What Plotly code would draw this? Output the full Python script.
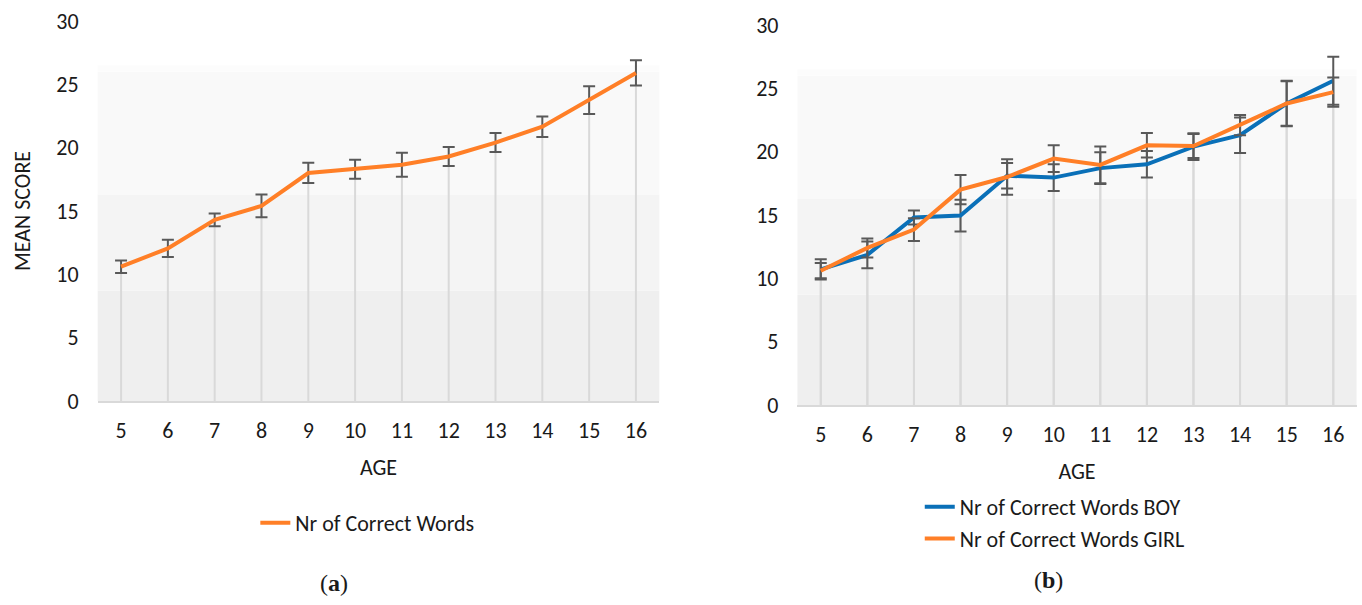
import plotly.graph_objects as go

# ---- data -------------------------------------------------------------
ages = [5, 6, 7, 8, 9, 10, 11, 12, 13, 14, 15, 16]
y_ticks = [0, 5, 10, 15, 20, 25, 30]

# (a) all children
mean_all = [10.6, 12.05, 14.3, 15.4, 18.0, 18.3, 18.65, 19.3, 20.4, 21.65, 23.75, 25.9]
err_all = [0.5, 0.68, 0.5, 0.9, 0.8, 0.75, 0.95, 0.75, 0.75, 0.8, 1.1, 1.0]

# (b) split by gender
mean_boy = [10.7, 11.85, 14.8, 14.95, 18.1, 17.95, 18.7, 19.0, 20.4, 21.3, 23.8, 25.6]
err_boy = [0.8, 1.05, 0.55, 1.25, 1.0, 1.05, 1.25, 1.05, 1.05, 1.4, 1.8, 1.9]
mean_girl = [10.6, 12.4, 13.85, 17.0, 18.0, 19.45, 18.95, 20.5, 20.45, 22.1, 23.8, 24.7]
err_girl = [0.6, 0.75, 0.9, 1.15, 1.4, 1.05, 1.45, 0.97, 0.95, 0.8, 1.75, 1.15]

# ---- styling ----------------------------------------------------------
FONT = "Carlito, Lato, sans-serif"
FS = 22
TXT = "#1a1a1a"
ORANGE = "#FF7F27"
BLUE = "#0A70B8"
ERR = "#595959"
DROP = "#d9d9d9"


def drop_lines(values, xa, ya):
    xs, ys = [], []
    for a, v in zip(ages, values):
        xs += [a, a, None]
        ys += [0, v, None]
    return go.Scatter(x=xs, y=ys, mode="lines", line=dict(color=DROP, width=2),
                      hoverinfo="skip", showlegend=False, xaxis=xa, yaxis=ya)


def series(values, errs, name, color, xa, ya, legend):
    return go.Scatter(
        x=ages, y=values, name=name, mode="lines",
        line=dict(color=color, width=4),
        error_y=dict(type="data", array=errs, visible=True,
                     color=ERR, thickness=2, width=6),
        xaxis=xa, yaxis=ya, legend=legend,
    )


fig = go.Figure()
fig.add_trace(drop_lines(mean_all, "x", "y"))
fig.add_trace(drop_lines(mean_boy, "x2", "y2"))
fig.add_trace(drop_lines(mean_girl, "x2", "y2"))
fig.add_trace(series(mean_all, err_all, "Nr of Correct Words", ORANGE, "x", "y", "legend"))
fig.add_trace(series(mean_boy, err_boy, "Nr of Correct Words BOY", BLUE, "x2", "y2", "legend2"))
fig.add_trace(series(mean_girl, err_girl, "Nr of Correct Words GIRL", ORANGE, "x2", "y2", "legend2"))

# soft grey banding of the plot areas
bands = [(0, 8.7, "#efefef"), (8.7, 16.3, "#f4f4f4"), (16.3, 26.0, "#f9f9f9"), (26.0, 26.5, "#fcfcfc")]
shapes = []
for xr, yr in (("x domain", "y"), ("x2 domain", "y2")):
    for y0, y1, c in bands:
        shapes.append(dict(type="rect", xref=xr, yref=yr, x0=0, x1=1, y0=y0, y1=y1,
                           fillcolor=c, line=dict(width=0), layer="below"))

tfont = dict(size=FS, color=TXT, family=FONT)
xcommon = dict(range=[4.5, 16.5], tickvals=ages, ticktext=[str(a) for a in ages],
               showgrid=False, zeroline=False, showline=True, linecolor=DROP, linewidth=2,
               ticks="", ticklabelstandoff=9, tickfont=tfont, automargin=False,
               title=dict(text="AGE", font=tfont, standoff=16))
ycommon = dict(range=[0, 30], tickvals=y_ticks, showgrid=False, zeroline=False, showline=False,
               ticks="", ticklabelstandoff=18, tickfont=tfont, automargin=False)

fig.update_layout(
    width=1362, height=605,
    margin=dict(l=0, r=0, t=0, b=0, autoexpand=False),
    paper_bgcolor="white", plot_bgcolor="rgba(0,0,0,0)",
    font=dict(family=FONT, size=FS, color=TXT),
    xaxis=dict(domain=[0.0717, 0.4841], anchor="y", **xcommon),
    yaxis=dict(domain=[0.3372, 0.9653], anchor="x",
               title=dict(text="MEAN SCORE", font=tfont, standoff=19),
               **ycommon),
    xaxis2=dict(domain=[0.5855, 0.9960], anchor="y2", **xcommon),
    yaxis2=dict(domain=[0.3306, 0.9587], anchor="x2", **ycommon),
    legend=dict(orientation="h", x=0.2697, y=0.1355, xanchor="center", yanchor="middle",
                font=tfont, bgcolor="rgba(0,0,0,0)"),
    legend2=dict(orientation="v", x=0.6753, y=0.1966, xanchor="left", yanchor="top",
                 font=tfont, bgcolor="rgba(0,0,0,0)", tracegroupgap=0),
    shapes=shapes,
    annotations=[
        dict(text="(<b>a</b>)", x=0.2452, y=0.0364, xref="paper", yref="paper",
             xanchor="center", yanchor="middle", showarrow=False,
             font=dict(family="Liberation Serif", size=24, color=TXT)),
        dict(text="(<b>b</b>)", x=0.7695, y=0.0413, xref="paper", yref="paper",
             xanchor="center", yanchor="middle", showarrow=False,
             font=dict(family="Liberation Serif", size=24, color=TXT)),
    ],
)

fig.write_html("out.html")
